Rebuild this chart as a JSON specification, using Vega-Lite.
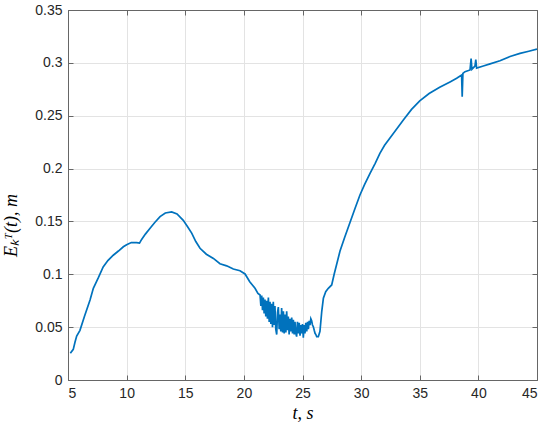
{
  "$schema": "https://vega.github.io/schema/vega-lite/v6.json",
  "autosize": {"type": "none"},
  "width": 469,
  "height": 370,
  "padding": {"left": 68, "top": 10, "right": 13, "bottom": 52},
  "background": "white",
  "config": {
    "view": {"stroke": "#666666", "strokeWidth": 1},
    "axis": {
      "labelFont": "Liberation Sans",
      "labelFontSize": 14,
      "labelColor": "#262626",
      "tickColor": "#666666",
      "domainColor": "#666666",
      "gridColor": "#e3e3e3",
      "gridWidth": 1,
      "tickSize": -5,
      "format": "~g",
      "titleFont": "Liberation Serif",
      "titleFontStyle": "italic",
      "titleFontWeight": "normal",
      "titleFontSize": 18,
      "titleColor": "#000000"
    }
  },
  "data": {"values": [
    {"t": 5.2, "e": 0.0253}, {"t": 5.45, "e": 0.029}, {"t": 5.6, "e": 0.036}, {"t": 5.74, "e": 0.0416},
    {"t": 6.02, "e": 0.047}, {"t": 6.4, "e": 0.060}, {"t": 6.88, "e": 0.0757}, {"t": 7.16, "e": 0.0867},
    {"t": 7.6, "e": 0.097}, {"t": 8.0, "e": 0.107}, {"t": 8.4, "e": 0.113}, {"t": 8.86, "e": 0.118},
    {"t": 9.3, "e": 0.122}, {"t": 9.72, "e": 0.126}, {"t": 10.0, "e": 0.128}, {"t": 10.4, "e": 0.130},
    {"t": 10.86, "e": 0.130}, {"t": 11.1, "e": 0.1295}, {"t": 11.28, "e": 0.133}, {"t": 11.6, "e": 0.138},
    {"t": 12.0, "e": 0.1435}, {"t": 12.4, "e": 0.149}, {"t": 12.85, "e": 0.1545}, {"t": 13.3, "e": 0.158},
    {"t": 13.84, "e": 0.159}, {"t": 14.3, "e": 0.157}, {"t": 14.83, "e": 0.151}, {"t": 15.2, "e": 0.145},
    {"t": 15.55, "e": 0.139}, {"t": 15.9, "e": 0.131}, {"t": 16.26, "e": 0.1246}, {"t": 16.8, "e": 0.119},
    {"t": 17.4, "e": 0.115}, {"t": 17.96, "e": 0.110}, {"t": 18.53, "e": 0.108}, {"t": 19.1, "e": 0.105},
    {"t": 19.67, "e": 0.1034}, {"t": 20.1, "e": 0.1003}, {"t": 20.5, "e": 0.093}, {"t": 20.95, "e": 0.0867},
    {"t": 21.2, "e": 0.082}, {"t": 21.38, "e": 0.0804}, {"t": 21.45, "e": 0.070}, {"t": 21.52, "e": 0.080},
    {"t": 21.59, "e": 0.066}, {"t": 21.66, "e": 0.078}, {"t": 21.73, "e": 0.063}, {"t": 21.8, "e": 0.076},
    {"t": 21.87, "e": 0.060}, {"t": 21.94, "e": 0.075}, {"t": 22.01, "e": 0.058}, {"t": 22.09, "e": 0.078},
    {"t": 22.16, "e": 0.055}, {"t": 22.23, "e": 0.074}, {"t": 22.3, "e": 0.053}, {"t": 22.37, "e": 0.072},
    {"t": 22.44, "e": 0.050}, {"t": 22.51, "e": 0.074}, {"t": 22.58, "e": 0.052}, {"t": 22.65, "e": 0.070},
    {"t": 22.72, "e": 0.048}, {"t": 22.8, "e": 0.043}, {"t": 22.87, "e": 0.064}, {"t": 22.94, "e": 0.069},
    {"t": 23.01, "e": 0.048}, {"t": 23.08, "e": 0.062}, {"t": 23.15, "e": 0.046}, {"t": 23.22, "e": 0.068},
    {"t": 23.3, "e": 0.045}, {"t": 23.37, "e": 0.065}, {"t": 23.44, "e": 0.044}, {"t": 23.51, "e": 0.062},
    {"t": 23.58, "e": 0.045}, {"t": 23.65, "e": 0.065}, {"t": 23.72, "e": 0.047}, {"t": 23.79, "e": 0.060},
    {"t": 23.86, "e": 0.043}, {"t": 23.93, "e": 0.058}, {"t": 24.0, "e": 0.046}, {"t": 24.08, "e": 0.059},
    {"t": 24.15, "e": 0.044}, {"t": 24.22, "e": 0.057}, {"t": 24.29, "e": 0.043}, {"t": 24.36, "e": 0.055},
    {"t": 24.43, "e": 0.044}, {"t": 24.5, "e": 0.041}, {"t": 24.57, "e": 0.055}, {"t": 24.65, "e": 0.044},
    {"t": 24.72, "e": 0.054}, {"t": 24.79, "e": 0.042}, {"t": 24.86, "e": 0.052}, {"t": 24.93, "e": 0.044},
    {"t": 25.0, "e": 0.053}, {"t": 25.07, "e": 0.040}, {"t": 25.14, "e": 0.052}, {"t": 25.21, "e": 0.044},
    {"t": 25.28, "e": 0.054}, {"t": 25.36, "e": 0.046}, {"t": 25.43, "e": 0.055}, {"t": 25.5, "e": 0.048},
    {"t": 25.57, "e": 0.056}, {"t": 25.64, "e": 0.052}, {"t": 25.71, "e": 0.058}, {"t": 25.78, "e": 0.0561},
    {"t": 25.85, "e": 0.052}, {"t": 25.92, "e": 0.0505}, {"t": 26.0, "e": 0.047}, {"t": 26.07, "e": 0.0442},
    {"t": 26.14, "e": 0.043}, {"t": 26.21, "e": 0.041}, {"t": 26.35, "e": 0.041}, {"t": 26.49, "e": 0.046},
    {"t": 26.64, "e": 0.0646}, {"t": 26.78, "e": 0.0773}, {"t": 26.98, "e": 0.0836}, {"t": 27.2, "e": 0.0867},
    {"t": 27.49, "e": 0.0899}, {"t": 27.7, "e": 0.100}, {"t": 28.2, "e": 0.122}, {"t": 28.6, "e": 0.135},
    {"t": 29.05, "e": 0.149}, {"t": 29.5, "e": 0.163}, {"t": 29.9, "e": 0.175}, {"t": 30.3, "e": 0.185},
    {"t": 30.76, "e": 0.1955}, {"t": 31.2, "e": 0.205}, {"t": 31.6, "e": 0.2144}, {"t": 32.0, "e": 0.222},
    {"t": 32.46, "e": 0.229}, {"t": 33.0, "e": 0.237}, {"t": 33.6, "e": 0.246}, {"t": 34.3, "e": 0.256},
    {"t": 35.0, "e": 0.264}, {"t": 35.8, "e": 0.271}, {"t": 36.7, "e": 0.277}, {"t": 37.58, "e": 0.282},
    {"t": 38.15, "e": 0.2854}, {"t": 38.57, "e": 0.2885}, {"t": 38.62, "e": 0.268}, {"t": 38.68, "e": 0.290},
    {"t": 38.86, "e": 0.2917}, {"t": 39.29, "e": 0.2933}, {"t": 39.38, "e": 0.304}, {"t": 39.45, "e": 0.294},
    {"t": 39.71, "e": 0.297}, {"t": 39.78, "e": 0.303}, {"t": 39.85, "e": 0.295}, {"t": 40.42, "e": 0.297},
    {"t": 41.0, "e": 0.299}, {"t": 41.84, "e": 0.302}, {"t": 42.7, "e": 0.306}, {"t": 43.55, "e": 0.309},
    {"t": 44.3, "e": 0.311}, {"t": 45.0, "e": 0.313}
  ]},
  "layer": [
    {
      "mark": {"type": "line", "color": "#0072BD", "strokeWidth": 1.7, "clip": true},
      "encoding": {
        "x": {"field": "t", "type": "quantitative",
              "scale": {"domain": [5, 45], "nice": false, "zero": false},
              "axis": {"values": [5, 10, 15, 20, 25, 30, 35, 40, 45], "title": "t, s", "titleBaseline": "alphabetic", "titleY": 38, "labelPadding": 11}},
        "y": {"field": "e", "type": "quantitative",
              "scale": {"domain": [0, 0.35], "nice": false},
              "axis": {"values": [0, 0.05, 0.1, 0.15, 0.2, 0.25, 0.3, 0.35], "title": "Eₖᵀ(t), m", "titleX": -48, "titleY": 215, "labelPadding": 11}}
      }
    },
    {
      "mark": {"type": "line", "opacity": 0},
      "encoding": {
        "x": {"field": "t", "type": "quantitative",
              "axis": {"orient": "top", "values": [5, 10, 15, 20, 25, 30, 35, 40, 45], "labels": false, "grid": false, "title": null}},
        "y": {"field": "e", "type": "quantitative",
              "axis": {"orient": "right", "values": [0, 0.05, 0.1, 0.15, 0.2, 0.25, 0.3, 0.35], "labels": false, "grid": false, "title": null}}
      }
    }
  ],
  "resolve": {"axis": {"x": "independent", "y": "independent"}}
}
